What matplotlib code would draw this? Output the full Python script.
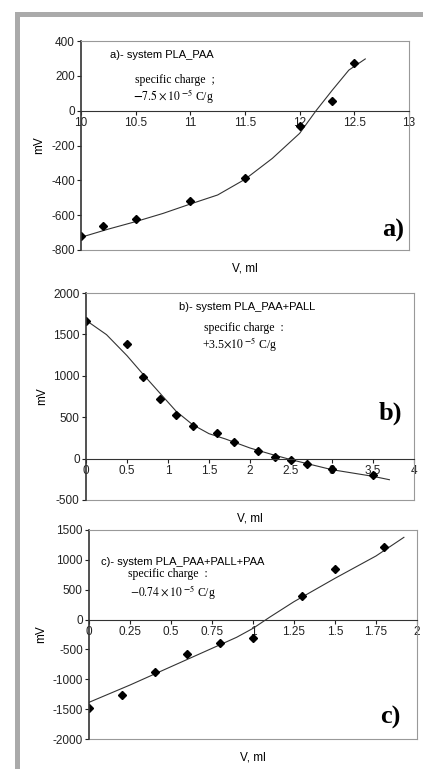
import numpy as np
import matplotlib
matplotlib.use("Agg")
import matplotlib.pyplot as plt
from matplotlib.patches import Rectangle

plt.rcParams['font.family'] = ['Liberation Sans', 'DejaVu Sans']
plt.rcParams['axes.unicode_minus'] = False
plt.rcParams['mathtext.fontset'] = 'stix'

# panel a) PLA_PAA
a_x = [10, 10.2, 10.5, 11, 11.5, 12, 12.3, 12.5]
a_y = [-720, -665, -620, -520, -385, -90, 55, 275]
a_fit_x = [10, 10.25, 10.5, 10.75, 11, 11.25, 11.5, 11.75, 12, 12.15, 12.3, 12.45, 12.6]
a_fit_y = [-727, -680, -637, -590, -536, -484, -394, -274, -130, 0, 119, 233, 297]

# panel b) PLA_PAA+PALL
b_x = [0, 0.5, 0.7, 0.9, 1.1, 1.3, 1.6, 1.8, 2.1, 2.3, 2.5, 2.7, 3, 3.5]
b_y = [1660, 1390, 990, 725, 525, 390, 305, 195, 90, 20, -20, -70, -120, -195]
b_fit_x = [0, 0.25, 0.5, 0.7, 0.9, 1.1, 1.3, 1.5, 1.7, 2, 2.25, 2.5, 3, 3.5, 3.7]
b_fit_y = [1670, 1497, 1243, 1014, 792, 571, 410, 301, 237, 128, 55, -13, -134, -214, -255]

# panel c) PLA_PAA+PALL+PAA
c_x = [0, 0.2, 0.4, 0.6, 0.8, 1.0, 1.3, 1.5, 1.8]
c_y = [-1480, -1260, -870, -575, -395, -310, 397, 855, 1220]
c_fit_x = [0, 0.25, 0.5, 0.75, 0.9, 1.0, 1.1, 1.25, 1.5, 1.75, 1.92]
c_fit_y = [-1386, -1096, -789, -482, -297, -147, 37, 300, 691, 1065, 1377]

a_xticks = [10, 10.5, 11, 11.5, 12, 12.5, 13]
a_xlabels = ['10', '10.5', '11', '11.5', '12', '12.5', '13']
b_xticks = [0, 0.5, 1, 1.5, 2, 2.5, 3, 3.5, 4]
b_xlabels = ['0', '0.5', '1', '1.5', '2', '2.5', '3', '3.5', '4']
c_xticks = [0, 0.25, 0.5, 0.75, 1, 1.25, 1.5, 1.75, 2]
c_xlabels = ['0', '0.25', '0.5', '0.75', '1', '1.25', '1.5', '1.75', '2']

W, H = 423, 769
fig = plt.figure(figsize=(W / 100, H / 100), dpi=100)

# grey frame (top bar and left bar)
fig.patches.append(Rectangle((15 / W, 1 - 17 / H), 1, 5 / H, transform=fig.transFigure,
                             color='#aaaaaa', lw=0))
fig.patches.append(Rectangle((15 / W, 0), 5 / W, 1 - 12 / H, transform=fig.transFigure,
                             color='#aaaaaa', lw=0))


def make_ax(l, r, t, b):
    return fig.add_axes([l / W, 1 - b / H, (r - l) / W, (b - t) / H])


def style(ax, xlim, ylim, xt, xl, yt):
    ax.set_xlim(*xlim)
    ax.set_ylim(*ylim)
    ax.spines['bottom'].set_position(('data', 0))
    ax.spines['bottom'].set_color('#333333')
    ax.spines['left'].set_color('#333333')
    ax.spines['left'].set_linewidth(1.2)
    for s in ['top', 'right']:
        ax.spines[s].set_color('#999999')
        ax.spines[s].set_linewidth(0.8)
    ax.plot([0, 1], [0, 0], transform=ax.transAxes, color='#999999', lw=0.8, clip_on=False)
    ax.set_xticks(xt)
    ax.set_xticklabels(xl)
    ax.set_yticks(yt)
    ax.tick_params(axis='both', labelsize=8.5, colors='#222222', length=3, width=0.8, pad=1.5)
    ax.set_ylabel('mV', fontsize=8.5, labelpad=4)
    ax.text(0.5, -0.09, 'V, ml', transform=ax.transAxes, ha='center', va='center', fontsize=8.5)


serif = ['Liberation Serif', 'DejaVu Serif']

# a)
ax1 = make_ax(81, 409, 41, 250)
style(ax1, (10, 13), (-800, 400), a_xticks, a_xlabels, np.arange(-800, 401, 200))
ax1.plot(a_fit_x, a_fit_y, color='#333333', lw=0.8)
ax1.plot(a_x, a_y, 'D', color='black', ms=4)
ax1.text(110 / W, 1 - 55 / H, 'a)- system PLA_PAA', transform=fig.transFigure, fontsize=8, va='center')
ax1.text(135 / W, 1 - 80 / H, 'specific charge  ;', transform=fig.transFigure, fontsize=8.5,
         family=serif, va='center')
ax1.text(133 / W, 1 - 96 / H, r'$\mathbf{-}7.5\times10^{\ \mathbf{-}5}$ C/g', transform=fig.transFigure,
         fontsize=8.5, family=serif, va='center')
ax1.text(393 / W, 1 - 230 / H, 'a)', transform=fig.transFigure, fontsize=19, family=serif,
         weight='bold', ha='center', va='center')

# b)
ax2 = make_ax(86, 414, 293, 500)
style(ax2, (0, 4), (-500, 2000), b_xticks, b_xlabels, np.arange(-500, 2001, 500))
ax2.plot(b_fit_x, b_fit_y, color='#333333', lw=0.8)
ax2.plot(b_x, b_y, 'D', color='black', ms=4)
ax2.text(247 / W, 1 - 307 / H, 'b)- system PLA_PAA+PALL', transform=fig.transFigure, fontsize=8,
         ha='center', va='center')
ax2.text(244 / W, 1 - 328 / H, 'specific charge  :', transform=fig.transFigure, fontsize=8.5,
         family=serif, ha='center', va='center')
ax2.text(240 / W, 1 - 344 / H, r'+3.5$\times10^{\ \mathbf{-}5}$ C/g', transform=fig.transFigure,
         fontsize=8.5, family=serif, ha='center', va='center')
ax2.text(390 / W, 1 - 413 / H, 'b)', transform=fig.transFigure, fontsize=19, family=serif,
         weight='bold', ha='center', va='center')

# c)
ax3 = make_ax(89, 417, 530, 739)
style(ax3, (0, 2), (-2000, 1500), c_xticks, c_xlabels, np.arange(-2000, 1501, 500))
ax3.plot(c_fit_x, c_fit_y, color='#333333', lw=0.8)
ax3.plot(c_x, c_y, 'D', color='black', ms=4)
ax3.text(101 / W, 1 - 562 / H, 'c)- system PLA_PAA+PALL+PAA', transform=fig.transFigure, fontsize=8,
         va='center')
ax3.text(128 / W, 1 - 574 / H, 'specific charge  :', transform=fig.transFigure, fontsize=8.5,
         family=serif, va='center')
ax3.text(130 / W, 1 - 592 / H, r'$-0.74\times10^{\ \mathbf{-}5}$ C/g', transform=fig.transFigure,
         fontsize=8.5, family=serif, va='center')
ax3.text(390 / W, 1 - 717 / H, 'c)', transform=fig.transFigure, fontsize=19, family=serif,
         weight='bold', ha='center', va='center')

fig.savefig('out.png', dpi=100)
